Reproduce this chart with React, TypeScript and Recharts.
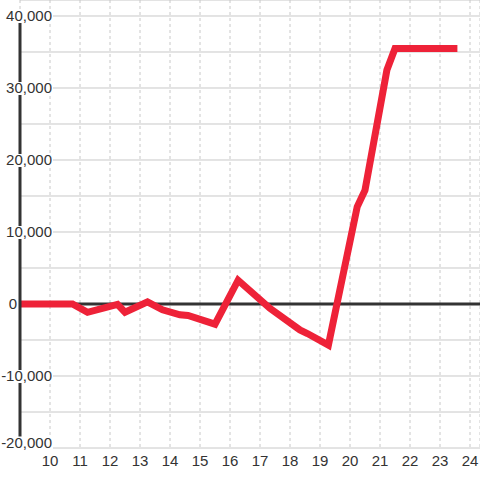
import React from "react";
import {
  LineChart,
  Line,
  XAxis,
  YAxis,
  CartesianGrid,
  ReferenceLine,
} from "recharts";

const xValues = [9, 10.75, 11.25, 12.25, 12.5, 13.25, 13.75, 14.33, 14.6, 15.5, 16.27, 17.33, 18.33, 18.58, 19.28, 20.24, 20.5, 21.23, 21.5, 23.58];
const yValues = [0, 0, -1150, -50, -1150, 300, -800, -1500, -1600, -2800, 3300, -600, -3600, -4100, -5700, 13500, 15800, 32500, 35500, 35500];

const xTicks = [10, 11, 12, 13, 14, 15, 16, 17, 18, 19, 20, 21, 22, 23, 24];
const yTicks = [-20000, -15000, -10000, -5000, 0, 5000, 10000, 15000, 20000, 25000, 30000, 35000, 40000];
const yLabelled = [-20000, -10000, 0, 10000, 20000, 30000, 40000];

const data = xValues.map((x, i) => ({ x, y: yValues[i] }));

const FONT = "'Liberation Sans', Arial, Helvetica, sans-serif";

const fmt = (v: number) => v.toLocaleString("en-US");

const estWidth = (s: string) => {
  let w = 0;
  for (const c of s) {
    if (c === ",") w += 4.17;
    else if (c === "-") w += 5.0;
    else w += 8.34;
  }
  return w;
};

const PLOT_BOTTOM = 448;

const YTick = (props: any) => {
  const { x, y, payload } = props;
  const v = payload.value as number;
  if (!yLabelled.includes(v)) return null;
  const label = fmt(v);
  const right = v === 0 ? x - 3 : x + 32;
  const w = estWidth(label);
  const cy = Math.min(y, PLOT_BOTTOM - 5.5);
  return (
    <g>
      <rect x={right - w - 1} y={cy - 6} width={w + 2} height={13} fill="#ffffff" />
      <text
        x={right}
        y={cy}
        dy="0.355em"
        textAnchor="end"
        fontSize={15}
        fontFamily={FONT}
        fill="#333333"
      >
        {label}
      </text>
    </g>
  );
};

export default function App() {
  return (
    <div style={{ position: "absolute", left: 0, top: 0, width: 480, height: 480, background: "#ffffff" }}>
      <LineChart width={480} height={480} data={data} margin={{ top: 0, right: 0, bottom: 0, left: 0 }}>
        <CartesianGrid horizontal={false} stroke="#c8c8c8" strokeDasharray="3 3" />
        <CartesianGrid vertical={false} stroke="#c8c8c8" />
        <ReferenceLine y={0} stroke="#333333" strokeWidth={3} />
        <XAxis
          dataKey="x"
          type="number"
          domain={[9, 24.3333]}
          ticks={xTicks}
          allowDataOverflow
          height={32}
          tickLine={false}
          axisLine={false}
          tickSize={0}
          tickMargin={7}
          tick={{ fontSize: 15, fontFamily: FONT, fill: "#333333" }}
          interval={0}
        />
        <YAxis
          type="number"
          domain={[-20000, 42222.2]}
          ticks={yTicks}
          allowDataOverflow
          width={20}
          tickLine={false}
          tickSize={0}
          tickMargin={0}
          axisLine={{ stroke: "#333333", strokeWidth: 3, strokeDasharray: "0 16 432 0" }}
          tick={<YTick />}
          interval={0}
        />
        <Line
          type="linear"
          dataKey="y"
          stroke="#ee2238"
          strokeWidth={7}
          dot={false}
          activeDot={false}
          isAnimationActive={false}
        />
      </LineChart>
    </div>
  );
}
